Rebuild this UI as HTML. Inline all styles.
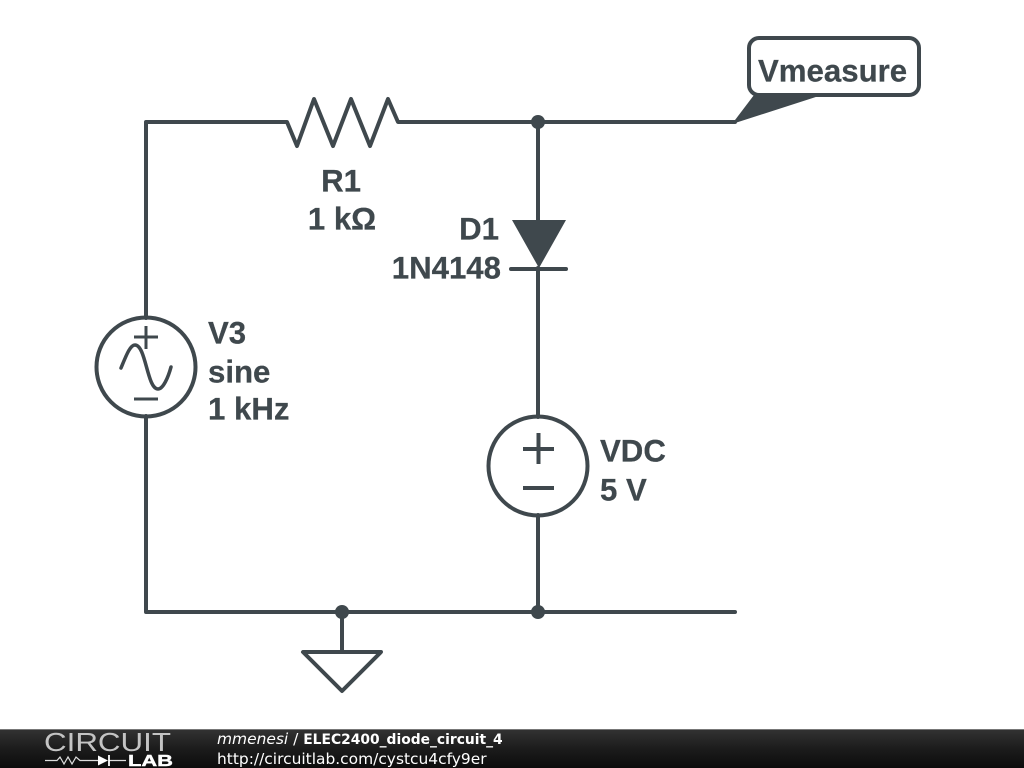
<!DOCTYPE html>
<html>
<head>
<meta charset="utf-8">
<style>
html,body{margin:0;padding:0;background:#fff;width:1024px;height:768px;overflow:hidden}
svg{display:block}
.l{font-family:"Liberation Sans",sans-serif;font-weight:bold;font-size:31.2px;fill:#3f484d;stroke:#3f484d;stroke-width:.25px}
.f{font-family:"DejaVu Sans",sans-serif;font-size:15.45px;fill:#fff}
</style>
</head>
<body>
<svg width="1024" height="768" viewBox="0 0 1024 768" xmlns="http://www.w3.org/2000/svg">
<defs>
<linearGradient id="bar" x1="0" y1="0" x2="0" y2="1">
<stop offset="0" stop-color="#333"/>
<stop offset="0.5" stop-color="#1c1c1c"/>
<stop offset="1" stop-color="#0c0c0c"/>
</linearGradient>
</defs>
<rect width="1024" height="768" fill="#fff"/>
<g fill="none" stroke="#3f484d" stroke-width="4" stroke-linejoin="round" stroke-linecap="round">
<path d="M146 318V122H287L297 146L314 99L333 146L351 99L370 146L388 99L398 122H735"/>
<path d="M538 122V220M538 268V417M538 515V612"/>
<path d="M146 416V612H735M342 612V652"/>
<circle cx="146" cy="367" r="49.5"/>
<circle cx="538" cy="466" r="49.5"/>
<path d="M134 337H158M146 326V349M134 399H158" stroke-width="3" stroke-linecap="butt"/>
<path d="M121 368C126 356 130 345 135 345C146 345 147 389 158 389C163 389 168 378 171 367" stroke-width="3.5"/>
<path d="M523 449H554M538.500 433V464M523 488H554" stroke-linecap="butt"/>
<path d="M511 269H566"/>
<path d="M303 652H381L342 691Z"/>
<rect x="749" y="38" width="170" height="57" rx="10" ry="10" fill="#fff"/>
</g>
<g fill="#3f484d">
<circle cx="538" cy="122" r="7"/>
<circle cx="538" cy="612" r="7"/>
<circle cx="342" cy="612" r="7"/>
<path d="M512 220H566L539 268Z"/>
<path d="M754 95H822L732 124Z"/>
</g>
<text class="l" x="758" y="81.500">Vmeasure</text>
<text class="l" x="341" y="191.500" text-anchor="middle">R1</text>
<text class="l" x="342" y="229.500" text-anchor="middle">1 kΩ</text>
<text class="l" x="499" y="239.500" text-anchor="end">D1</text>
<text class="l" x="501" y="278.500" text-anchor="end">1N4148</text>
<text class="l" x="208" y="343.500">V3</text>
<text class="l" x="208" y="382.500">sine</text>
<text class="l" x="208" y="419.500">1 kHz</text>
<text class="l" x="600" y="461.500">VDC</text>
<text class="l" x="600" y="500.500">5 V</text>
<rect x="0" y="729" width="1024" height="39" fill="url(#bar)"/>
<rect x="0" y="729" width="1024" height="1" fill="#777"/>
<text x="44" y="751" font-family="'Liberation Sans',sans-serif" font-size="26" fill="#c4c4c4" textLength="127" lengthAdjust="spacingAndGlyphs">CIRCUIT</text>
<path d="M45 760.500H57L60 757L64 764L68 757L72 764L76 757L80 760.500H98M109 760.500H126" fill="none" stroke="#ddd" stroke-width="1.200"/>
<path d="M98 755.500V765.500L108 760.500Z" fill="#fff"/>
<path d="M109 755V766" stroke="#fff" stroke-width="1.800"/>
<text x="128" y="766" font-family="'Liberation Sans',sans-serif" font-weight="bold" font-size="15.500" fill="#fff" stroke="#fff" stroke-width=".4" textLength="45" lengthAdjust="spacingAndGlyphs">LAB</text>
<text class="f" x="217" y="744"><tspan font-style="italic">mmenesi</tspan> / <tspan font-weight="bold" font-size="13.85">ELEC2400_diode_circuit_4</tspan></text>
<text class="f" x="217" y="764">http://circuitlab.com/cystcu4cfy9er</text>
</svg>
</body>
</html>
